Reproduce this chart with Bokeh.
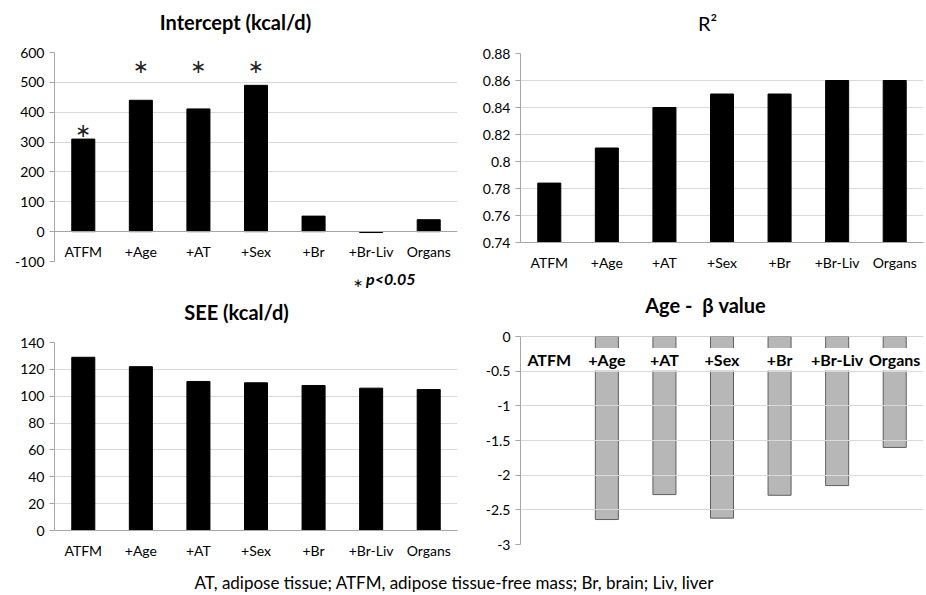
import html
from bokeh.plotting import figure
from bokeh.models import (FactorRange, Range1d, FixedTicker, CustomJSTickFormatter,
                          BoxAnnotation, Div)
from bokeh.layouts import column, row
from bokeh.core.properties import value
from bokeh.embed import file_html
from bokeh.resources import INLINE

# ---------------- data ----------------
models = ["ATFM", "+Age", "+AT", "+Sex", "+Br", "+Br-Liv", "Organs"]

intercept = [310, 440, 411, 490, 52, -3, 40]
intercept_sig = [True, True, True, True, False, False, False]
intercept_star_y = [341, 556, 556, 556, None, None, None]
intercept_ticks = [-100, 0, 100, 200, 300, 400, 500, 600]
intercept_tick_labels = ["-100", "0", "100", "200", "300", "400", "500", "600"]
sig_note = "p<0.05"

r2 = [0.784, 0.81, 0.84, 0.85, 0.85, 0.86, 0.86]
r2_ticks = [0.74, 0.76, 0.78, 0.80, 0.82, 0.84, 0.86, 0.88]
r2_tick_labels = ["0.74", "0.76", "0.78", "0.8", "0.82", "0.84", "0.86", "0.88"]

see = [129, 122, 111, 110, 108, 106, 105]
see_ticks = [0, 20, 40, 60, 80, 100, 120, 140]
see_tick_labels = ["0", "20", "40", "60", "80", "100", "120", "140"]

age_beta = [float("nan"), -2.64, -2.28, -2.62, -2.29, -2.15, -1.60]
beta_ticks = [-3, -2.5, -2, -1.5, -1, -0.5, 0]
beta_tick_labels = ["-3", "-2.5", "-2", "-1.5", "-1", "-0.5", "0"]

titles = ["Intercept (kcal/d)", "R²", "SEE (kcal/d)", "Age -  β value"]
footnote = "AT, adipose tissue; ATFM, adipose tissue-free mass; Br, brain; Liv, liver"

FONT = "Lato"
GRID = "#d9d9d9"
AXIS = "#a6a6a6"
COLW = 463


def make_fig(yr, ticks, labels, h, left, right, top, bottom):
    p = figure(x_range=FactorRange(*models), y_range=Range1d(*yr),
               width=COLW, height=h, output_backend="svg", toolbar_location=None,
               min_border_left=left, min_border_right=right,
               min_border_top=top, min_border_bottom=bottom)
    p.outline_line_color = None
    p.xgrid.visible = False
    p.ygrid.grid_line_color = GRID
    p.ygrid.grid_line_width = 1
    p.yaxis.ticker = FixedTicker(ticks=ticks)
    p.yaxis.formatter = CustomJSTickFormatter(
        args=dict(vals=ticks, labs=labels),
        code="const i = vals.findIndex(v => Math.abs(v - tick) < 1e-9); return i >= 0 ? labs[i] : '';")
    p.yaxis.minor_tick_line_color = None
    p.yaxis.major_tick_in = 0
    p.yaxis.major_tick_out = 5
    p.yaxis.major_tick_line_color = AXIS
    p.yaxis.axis_line_color = AXIS
    p.yaxis.major_label_text_font = FONT
    p.yaxis.major_label_text_font_size = "14px"
    p.yaxis.major_label_text_color = "black"
    p.yaxis.major_label_standoff = 5
    p.xaxis.axis_line_color = AXIS
    p.xaxis.major_tick_line_color = None
    p.xaxis.major_tick_in = 0
    p.xaxis.major_tick_out = 0
    p.xaxis.minor_tick_line_color = None
    p.xaxis.major_label_text_font = FONT
    p.xaxis.major_label_text_font_size = "14px"
    p.xaxis.major_label_text_color = "black"
    p.xaxis.major_label_standoff = 11
    return p


def title_div(text, h, bold=True, shift=0):
    t = html.escape(text).replace("  ", " &nbsp;")
    t = f'<span style="display:block;padding-left:{2 * shift}px">{t}</span>'
    return Div(text=t, width=COLW, height=h, margin=0,
               styles={"font-family": FONT, "font-size": "20px",
                       "font-weight": "bold" if bold else "normal",
                       "text-align": "center", "line-height": f"{h}px",
                       "color": "black", "white-space": "nowrap"})


# ---------------- panel 1: intercept ----------------
t1 = title_div(titles[0], 44, shift=4)
p1 = make_fig((-100, 600), intercept_ticks, intercept_tick_labels, 225, 54, 6, 8, 8)
p1.vbar(x=models, top=intercept, width=0.4, fill_color="black", line_color="black")
p1.xaxis.fixed_location = 0
star_x = [m for m, s in zip(models, intercept_sig) if s]
star_y = [y for y, s in zip(intercept_star_y, intercept_sig) if s]
p1.text(x=star_x, y=star_y, text=["∗"] * len(star_x), text_align="center",
        text_baseline="middle", text_font=value("DejaVu Sans"), text_font_size="19px",
        text_color="#222222")
pnote = Div(text=('<span style="display:inline-block;margin-left:353px;font-size:12px;'
                  'vertical-align:-2px">∗</span> '
                  '<span style="font-weight:bold;font-style:italic;font-size:16px">'
                  + html.escape(sig_note) + '</span>'),
            width=COLW, height=20, margin=0,
            styles={"font-family": FONT, "line-height": "20px", "color": "black",
                    "white-space": "nowrap"})

# ---------------- panel 2: R2 ----------------
t2 = title_div(titles[1], 46, bold=False, shift=13)
p2 = make_fig((0.74, 0.88), r2_ticks, r2_tick_labels, 244, 57, 3, 7, 48)
p2.vbar(x=models, top=r2, bottom=0.74, width=0.4, fill_color="black", line_color="black")

# ---------------- panel 3: SEE ----------------
t3 = title_div(titles[2], 46, shift=5)
p3 = make_fig((0, 140), see_ticks, see_tick_labels, 233, 50, 6, 7, 38)
p3.vbar(x=models, top=see, width=0.4, fill_color="black", line_color="black")

# ---------------- panel 4: Age beta ----------------
t4 = title_div(titles[3], 30, shift=11)
p4 = make_fig((-3, 0), beta_ticks, beta_tick_labels, 248, 57, 3, 16, 24)
p4.vbar(x=models, top=0, bottom=age_beta, width=0.4, fill_color="#b7b7b7",
        line_color="#5f5f5f", level="underlay")
p4.add_layout(BoxAnnotation(top=-0.165, bottom=-0.49, fill_color="white", fill_alpha=1.0,
                            line_alpha=0, level="glyph"))
p4.xaxis.fixed_location = 0
p4.xaxis.major_label_text_font_size = "16px"
p4.xaxis.major_label_text_font_style = "bold"
p4.xaxis.major_label_standoff = 13

note = Div(text=('<span style="display:block;padding-top:6px;padding-right:18px;'
                 'line-height:18px">' + html.escape(footnote) + '</span>'),
           width=2 * COLW, height=27, margin=0,
           styles={"font-family": FONT, "font-size": "17px", "text-align": "center",
                   "color": "black", "white-space": "nowrap"})

left = column(t1, p1, pnote, t3, p3)
right = column(t2, p2, t4, p4)
layout = column(row(left, right), note)
open("out.html", "w").write(file_html(layout, INLINE))
